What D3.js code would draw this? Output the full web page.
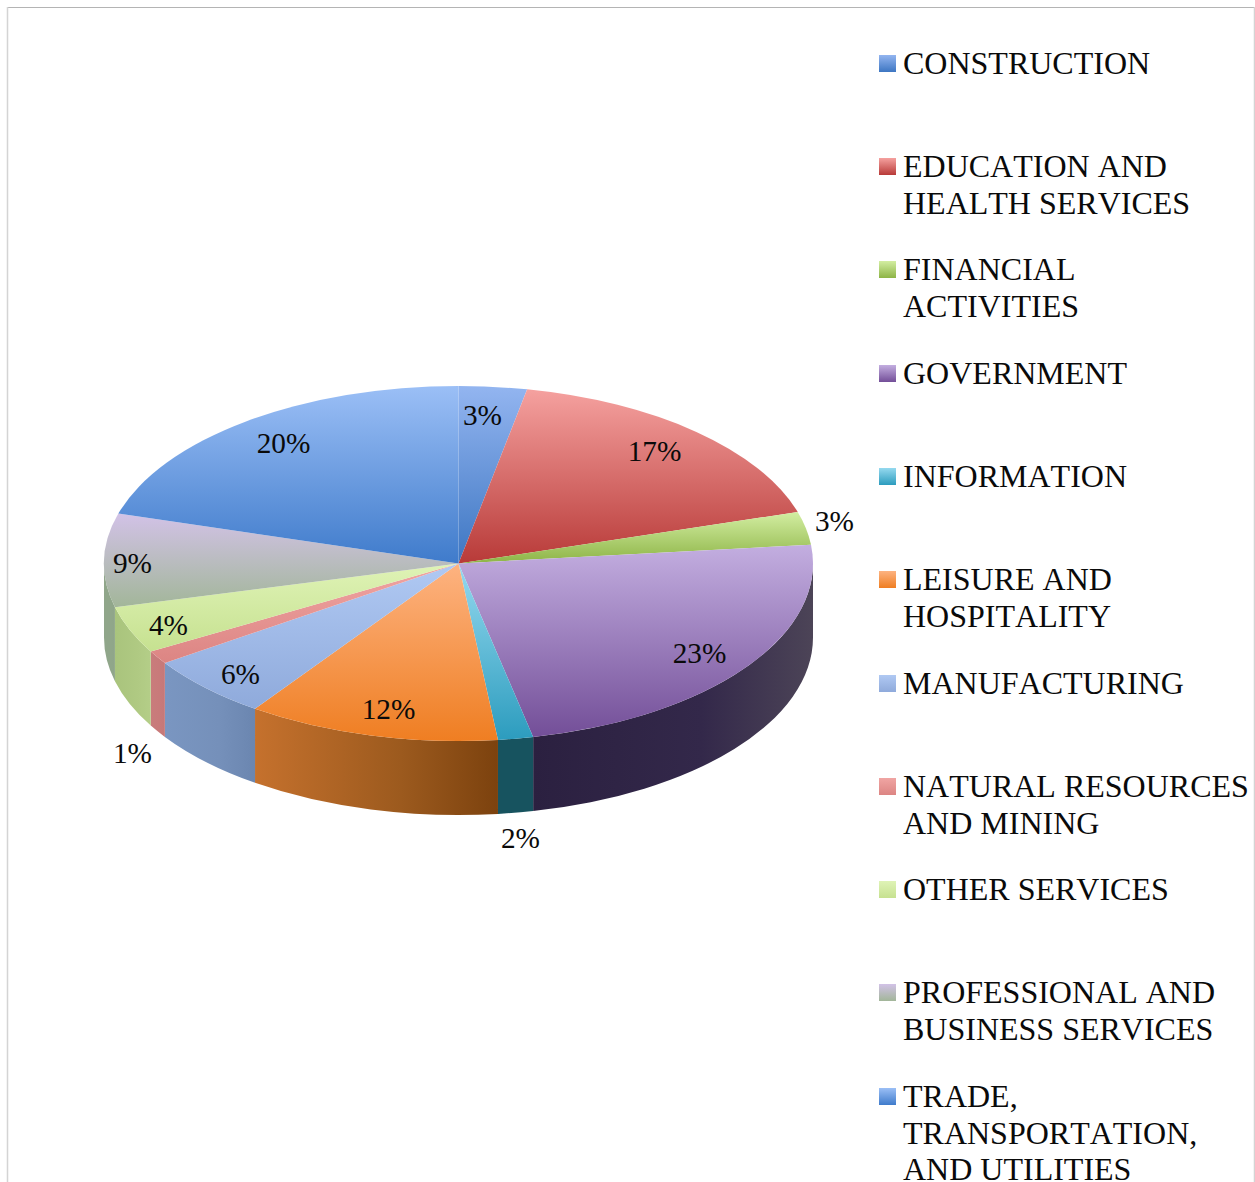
<!DOCTYPE html>
<html>
<head>
<meta charset="utf-8">
<title>Employment by sector</title>
<script src="https://cdn.jsdelivr.net/npm/d3@7/dist/d3.min.js"></script>
<style>
  html, body { margin: 0; padding: 0; background: #fff; overflow: hidden; }
  svg { display: block; }
  text {
    font-family: "Liberation Serif", "Times New Roman", serif;
    fill: #0a0a0a;
    font-kerning: none;
  }
</style>
</head>
<body>
<div id="chart"></div>
<script>
// Sector names, one entry per slice, with legend line breaks
const categories = [
  ["CONSTRUCTION"],
  ["EDUCATION AND", "HEALTH SERVICES"],
  ["FINANCIAL", "ACTIVITIES"],
  ["GOVERNMENT"],
  ["INFORMATION"],
  ["LEISURE AND", "HOSPITALITY"],
  ["MANUFACTURING"],
  ["NATURAL RESOURCES", "AND MINING"],
  ["OTHER SERVICES"],
  ["PROFESSIONAL AND", "BUSINESS SERVICES"],
  ["TRADE,", "TRANSPORTATION,", "AND UTILITIES"]
];

// Share of the total, in percent
const shares = [3.1, 17.2, 3.0, 23.3, 1.6, 11.5, 5.8, 1.2, 4.3, 8.5, 20.45];

// Top face gradient, light edge to dark edge
const topLight = ["#93B5F0", "#F5A19F", "#D3EEA2", "#C3AEE0", "#95D9EF", "#FDB381", "#B0C9F3", "#F0A5A3", "#DFF3B6", "#D2C2E7", "#9BBFF6"];
const topDark  = ["#3D76C2", "#B83A38", "#8DB446", "#734E98", "#2C9CBE", "#EF7E22", "#8FAADB", "#DC8583", "#C6E190", "#A2B699", "#3F7BCB"];

// Side wall gradient, left edge through middle to right edge
const wallLeft  = ["#000", "#000", "#000", "#2B2040", "#17535F", "#C5712D", "#7A96C1", "#C97C7C", "#A9C47D", "#90A68A", "#000"];
const wallMid   = ["#000", "#000", "#000", "#33284A", "#17535F", "#9C5A1E", "#7590BA", "#C87A7A", "#AFC982", "#90A68A", "#000"];
const wallRight = ["#000", "#000", "#000", "#4C4457", "#17535F", "#7C420E", "#6B86B0", "#C67878", "#B4CE88", "#8FA58A", "#000"];

// Where each percentage label sits
const labelAnchors = [
  [482.5, 415], [654.5, 451], [834.5, 521], [699.5, 653], [520.5, 838], [388.5, 709],
  [240.5, 674], [132.5, 753], [168.5, 625], [132.5, 563], [283.5, 443]
];

// Baseline of each legend line below its row centre
const lineBaselines = [10.5, 47.5, 83.9];

const width = 1255, height = 1182;
const cx = 458.5, cy = 563.5, rx = 354.5, ry = 177.5, depth = 74;
const squash = ry / rx;

const svg = d3.select("#chart").append("svg")
  .attr("width", width).attr("height", height);

// Outer frame: top, left and right edges only
svg.append("line").attr("x1", 7).attr("x2", 1254).attr("y1", 7.5).attr("y2", 7.5).attr("stroke", "#b4b4b4");
svg.append("line").attr("x1", 7.5).attr("x2", 7.5).attr("y1", 7).attr("y2", height).attr("stroke", "#d4d4d4").attr("stroke-width", 1.5);
svg.append("line").attr("x1", 1254.5).attr("x2", 1254.5).attr("y1", 7).attr("y2", height).attr("stroke", "#d4d4d4").attr("stroke-width", 1.5);

const defs = svg.append("defs");
categories.forEach((_, i) => {
  const faceGrad = defs.append("linearGradient").attr("id", `face-${i}`)
    .attr("x1", 0).attr("y1", 0).attr("x2", 0).attr("y2", 1);
  faceGrad.append("stop").attr("offset", 0).attr("stop-color", topLight[i]);
  faceGrad.append("stop").attr("offset", 1).attr("stop-color", topDark[i]);
  const wallGrad = defs.append("linearGradient").attr("id", `wall-${i}`)
    .attr("x1", 0).attr("y1", 0).attr("x2", 1).attr("y2", 0);
  wallGrad.append("stop").attr("offset", 0).attr("stop-color", wallLeft[i]);
  wallGrad.append("stop").attr("offset", 0.6).attr("stop-color", wallMid[i]);
  wallGrad.append("stop").attr("offset", 1).attr("stop-color", wallRight[i]);
});

const slices = d3.pie().sort(null).value(d => d)(shares);
const arc = d3.arc().innerRadius(0).outerRadius(rx);

// The disc is drawn as a circle, flattened vertically into an ellipse
const disc = svg.append("g")
  .attr("transform", `translate(${cx},${cy}) scale(1,${squash})`);

// Outer wall of a slice, limited to the half of the rim facing the viewer
function wallPath(d) {
  const a0 = Math.max(d.startAngle, Math.PI / 2) - Math.PI / 2;
  const a1 = Math.min(d.endAngle, 3 * Math.PI / 2) - Math.PI / 2;
  if (a1 <= a0) return null;
  const h = depth / squash;
  const p = d3.path();
  p.moveTo(rx * Math.cos(a0), rx * Math.sin(a0));
  p.arc(0, 0, rx, a0, a1, false);
  p.lineTo(rx * Math.cos(a1), rx * Math.sin(a1) + h);
  p.arc(0, h, rx, a1, a0, true);
  p.closePath();
  return p.toString();
}

disc.selectAll("path.wall")
  .data(slices.filter(d => wallPath(d)))
  .join("path")
  .attr("class", "wall")
  .attr("d", wallPath)
  .attr("fill", d => `url(#wall-${d.index})`);

disc.selectAll("path.face")
  .data(slices)
  .join("path")
  .attr("class", "face")
  .attr("d", arc)
  .attr("fill", d => `url(#face-${d.index})`);

// Percentage labels, rounded from the slice values
svg.selectAll("text.pct")
  .data(shares)
  .join("text")
  .attr("class", "pct")
  .attr("x", (_, i) => labelAnchors[i][0])
  .attr("y", (_, i) => labelAnchors[i][1] + 10)
  .attr("text-anchor", "middle")
  .attr("font-size", 29.3)
  .text(d => `${Math.round(d)}%`);

// Legend: one evenly spaced row per sector
const legendY = d3.scalePoint()
  .domain(d3.range(categories.length))
  .range([62.7, 1095.7]);

const legend = svg.selectAll("g.item")
  .data(categories)
  .join("g")
  .attr("class", "item")
  .attr("transform", (_, i) => `translate(879,${Math.round(legendY(i))})`);

legend.append("rect")
  .attr("y", -8).attr("width", 17).attr("height", 17)
  .attr("fill", (_, i) => `url(#face-${i})`);

legend.append("text")
  .attr("font-size", 32)
  .selectAll("tspan")
  .data(d => d)
  .join("tspan")
  .attr("x", 24)
  .attr("y", (_, j) => lineBaselines[j])
  .text(d => d);
</script>
</body>
</html>
